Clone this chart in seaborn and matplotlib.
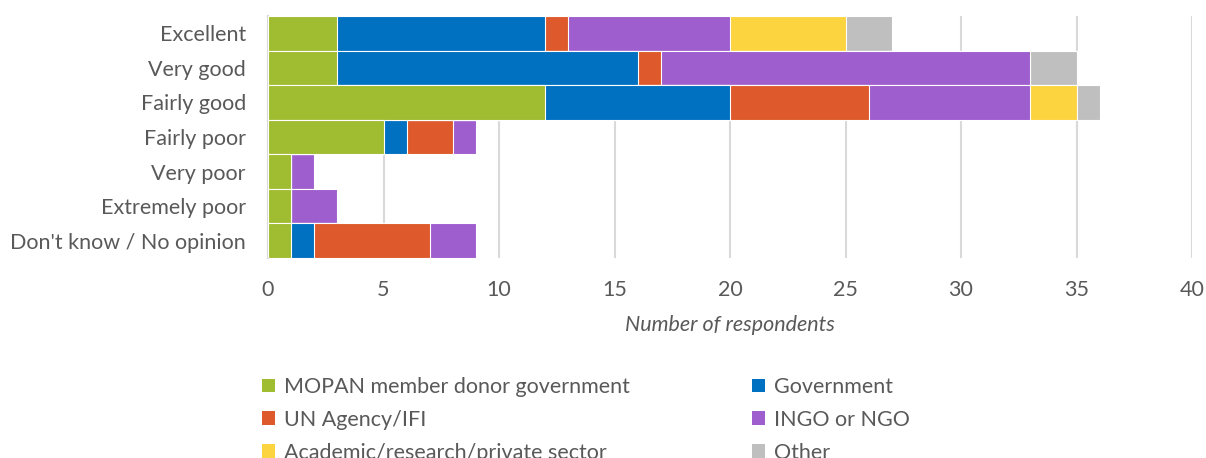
import matplotlib
matplotlib.use("Agg")
import matplotlib.pyplot as plt
import seaborn as sns
import pandas as pd
import numpy as np
from matplotlib.patches import Patch

categories = ["Excellent", "Very good", "Fairly good", "Fairly poor",
              "Very poor", "Extremely poor", "Don't know / No opinion"]
series_names = ["MOPAN member donor government", "Government", "UN Agency/IFI",
                "INGO or NGO", "Academic/research/private sector", "Other"]
mopan = [3, 3, 12, 5, 1, 1, 1]
government = [9, 13, 8, 1, 0, 0, 1]
un_agency = [1, 1, 6, 2, 0, 0, 5]
ingo = [7, 16, 7, 1, 1, 2, 2]
academic = [5, 0, 2, 0, 0, 0, 0]
other = [2, 2, 1, 0, 0, 0, 0]
x_ticks = [0, 5, 10, 15, 20, 25, 30, 35, 40]

colors = ["#A0BC30", "#0070C0", "#DE5A2C", "#9E5ECE", "#FCD440", "#BFBFBF"]

sns.set_theme(style="white")
plt.rcParams['font.family'] = ['Lato', 'DejaVu Sans']
text_color = "#595959"
fs = 15.5

series = [mopan, government, un_agency, ingo, academic, other]
cum = np.cumsum(np.array(series), axis=0)

fig = plt.figure(figsize=(12.06, 4.58), dpi=100)
ax = fig.add_axes([268/1206, 1-258/458, (1192-268)/1206, (258-16)/458])

for i in range(len(series) - 1, -1, -1):
    df = pd.DataFrame({"category": categories, "value": cum[i]})
    sns.barplot(data=df, x="value", y="category", order=categories,
                color=colors[i], saturation=1, width=1.0,
                edgecolor="white", linewidth=0.8, ax=ax, zorder=3)

ax.set_xlim(0, 40)
ax.set_ylim(6.5, -0.5)
ax.set_xticks(x_ticks)
ax.set_xticklabels([str(t) for t in x_ticks])
ax.xaxis.grid(True, color="#D9D9D9", linewidth=1.5, zorder=0)
ax.yaxis.grid(False)
ax.set_axisbelow(True)
for s in ["top", "right", "bottom"]:
    ax.spines[s].set_visible(False)
ax.spines["left"].set_color("#D9D9D9")
ax.spines["left"].set_linewidth(1.5)
ax.tick_params(axis="x", length=0, pad=15.5, labelsize=fs, labelcolor=text_color)
ax.tick_params(axis="y", length=0, pad=16, labelsize=fs, labelcolor=text_color)
ax.set_ylabel("")
ax.set_xlabel("Number of respondents", fontsize=fs, color=text_color,
              style="italic", labelpad=11)

order = [0, 2, 4, 1, 3, 5]
handles = [Patch(facecolor=colors[i], edgecolor="none") for i in order]
labels = [series_names[i] for i in order]
leg = fig.legend(handles, labels, loc="upper left",
                 bbox_to_anchor=(262/1206, 1-377/458), ncol=2, frameon=False,
                 fontsize=fs, handlelength=0.6, handleheight=0.6,
                 handletextpad=0.4, columnspacing=5.7, labelspacing=0.6,
                 borderaxespad=0, borderpad=0)
for t in leg.get_texts():
    t.set_color(text_color)

fig.savefig("out.png", dpi=100)
